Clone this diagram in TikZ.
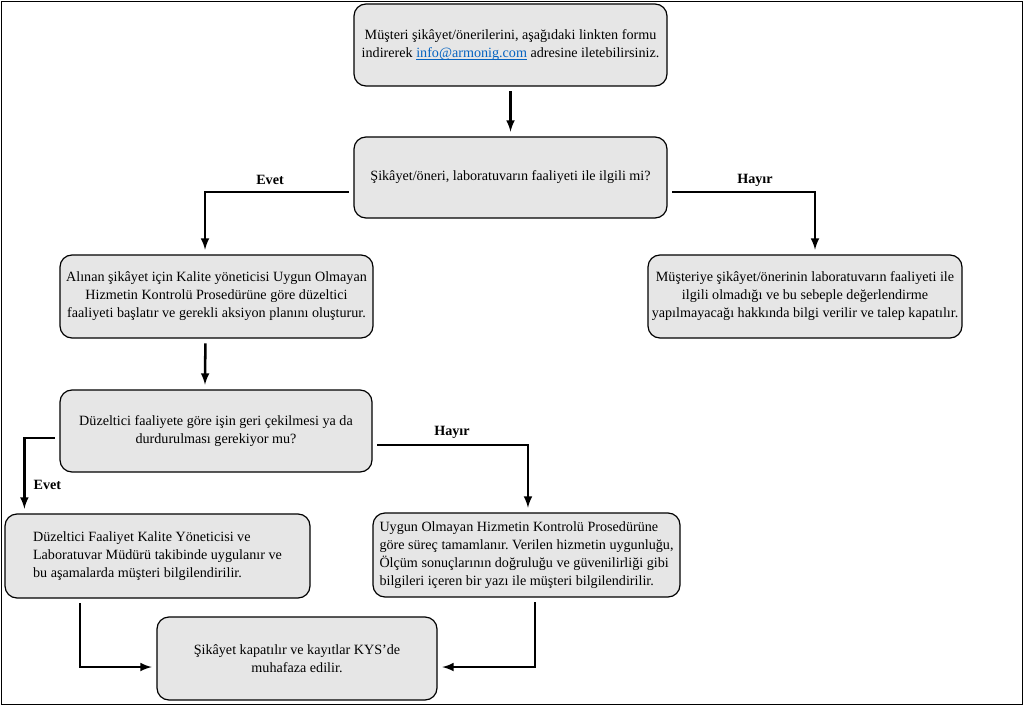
\documentclass[tikz,border=0pt]{standalone}
\usepackage{fontspec}
\setmainfont{Liberation Serif}
\usetikzlibrary{arrows,calc}
\frenchspacing

\definecolor{boxgray}{HTML}{E6E6E6}
\definecolor{linkblue}{HTML}{0563C1}

\tikzset{
  box/.style={draw, rounded corners=9pt, fill=boxgray, line width=0.9pt, align=center,
    inner sep=2pt, font=\fontsize{10.6}{13.5}\selectfont},
  flow/.style={-latex, line width=1.9pt, shorten <=3.5pt, shorten >=3.5pt},
  answer/.style={font=\bfseries\fontsize{10.6}{12}\selectfont}
}

\begin{document}
\begin{tikzpicture}[x=0.75pt, y=-0.75pt]
            % Complaint flow
            \useasboundingbox (0,0) rectangle (1024,706);
            \draw[line width=0.6pt] (1,1) rectangle (1022,704);

            \node[box, minimum width=234.75pt, minimum height=61.5pt] at (510.5,45) (start)
                {Müşteri şikâyet/önerilerini, aşağıdaki linkten formu\\
                 indirerek {\color{linkblue}\underline{\smash{info@armonig.com}}} adresine iletebilirsiniz.};
            \node[box, minimum width=234.75pt, minimum height=60.75pt] at (510.5,177.5) (q1)
                {Şikâyet/öneri, laboratuvarın faaliyeti ile ilgili mi?};

            \node[box, minimum width=234.75pt, minimum height=62.25pt] at (216.5,296.5) (act1)
                {Alınan şikâyet için Kalite yöneticisi Uygun Olmayan\\
                 Hizmetin Kontrolü Prosedürüne göre düzeltici\\
                 faaliyeti başlatır ve gerekli aksiyon planını oluşturur.};
            \node[box, minimum width=235.5pt, minimum height=62.25pt] at (805,296.5) (rej)
                {Müşteriye şikâyet/önerinin laboratuvarın faaliyeti ile\\
                 ilgili olmadığı ve bu sebeple değerlendirme\\
                 yapılmayacağı hakkında bilgi verilir ve talep kapatılır.};

            \node[box, minimum width=234pt, minimum height=61.5pt] at (216,431) (q2)
                {Düzeltici faaliyete göre işin geri çekilmesi ya da\\
                 durdurulması gerekiyor mu?};

            \node[box, align=left, minimum width=228.75pt, minimum height=63pt] at (157.5,556) (act2)
                {Düzeltici Faaliyet Kalite Yöneticisi ve\\
                 Laboratuvar Müdürü takibinde uygulanır ve\\
                 bu aşamalarda müşteri bilgilendirilir.};
            \node[box, align=left, minimum width=230.25pt, minimum height=63pt] at (526.5,555) (act3)
                {Uygun Olmayan Hizmetin Kontrolü Prosedürüne\\
                 göre süreç tamamlanır. Verilen hizmetin uygunluğu,\\
                 Ölçüm sonuçlarının doğruluğu ve güvenilirliği gibi\\
                 bilgileri içeren bir yazı ile müşteri bilgilendirilir.};

            \node[box, minimum width=210pt, minimum height=62.25pt] at (297,658.5) (close)
                {Şikâyet kapatılır ve kayıtlar KYS’de\\
                 muhafaza edilir.};

            \node[answer] at (270,180) (yes1) {Evet};
            \node[answer] at (755,180) (no1) {Hayır};
            \node[answer, anchor=west] at (29,485) (yes2) {Evet};
            \node[answer] at (452,432) (no2) {Hayır};

            \draw[flow] (start) -- (q1);
            \draw[flow] ([yshift=-10.9pt]q1.west) -| ([xshift=-8.6pt]act1.north);
            \draw[flow] ([yshift=-10.9pt]q1.east) -| ([xshift=7.5pt]rej.north);
            \draw[flow] ([xshift=-8.3pt]act1.south) -- ([xshift=-8.3pt]q2.north);
            \draw[flow] ([yshift=-5.3pt]q2.west) -| ([xshift=15pt]act2.north west);
            \draw[flow] ([yshift=-10.5pt]q2.east) -| ([xshift=1.1pt]act3.north);
            \draw[flow] ([xshift=-58pt]act2.south) |- ([yshift=-6.4pt]close.west);
            \draw[flow] ([xshift=6.4pt]act3.south) |- ([yshift=-6.4pt]close.east);
        \end{tikzpicture}
\end{document}
